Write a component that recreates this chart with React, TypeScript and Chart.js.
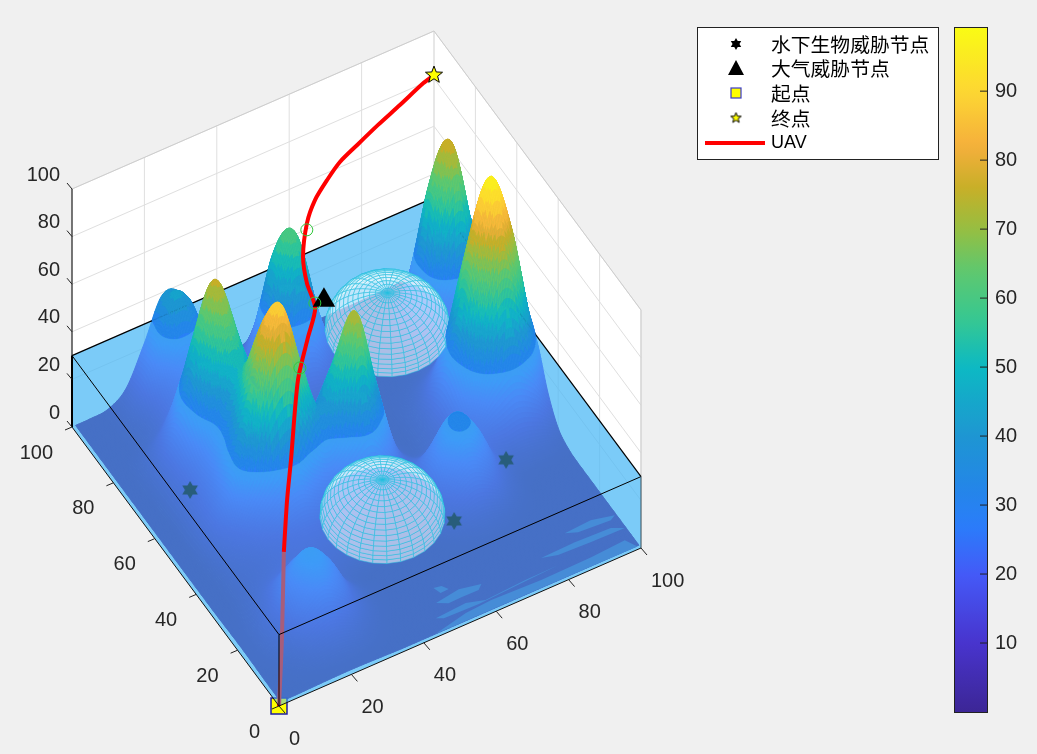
import React, { useEffect, useRef } from "react";
import { Chart, registerables } from "chart.js";
Chart.register(...registerables);

// ---------- values ----------
const gridCoords = [1, 5, 10, 15, 20, 25, 30, 35, 40, 45, 50, 55, 60, 65, 70, 75, 80, 85, 90, 95, 100];
// terrain height, one row per y in gridCoords, one column per x in gridCoords
const terrainHeights = [
  [0, 0, .2, .4, .5, .4, .2, 0, 0, 0, 0, 0, 0, 0, 0, 0, 0, 0, 0, 0, 0],
  [0, .2, .8, 1.9, 2.5, 1.9, .8, .2, 0, 0, 0, 0, 0, 0, 0, 0, 0, 0, 0, 0, 0],
  [.1, .7, 3.2, 7.7, 10.4, 7.7, 3.2, .7, .1, 0, 0, 0, 0, 0, 0, 0, 0, 0, 0, 0, 0],
  [.3, 1.7, 7.3, 17.6, 23.7, 17.6, 7.3, 1.7, .2, 0, 0, 0, 0, 0, 0, 0, 0, 0, 0, 0, 0],
  [.4, 2.1, 9.2, 22.2, 29, 22.2, 9.2, 2.1, .3, 0, 0, 0, .2, .5, .8, .6, .2, 0, 0, 0, 0],
  [.3, 1.5, 6.4, 15.6, 21, 15.6, 6.4, 1.5, .2, 0, 0, .2, 1.2, 3.7, 5.6, 4.2, 1.6, .3, 0, 0, 0],
  [.1, .6, 4, 8, 10.5, 9, 6.3, 4.6, 3.7, 3, 2.2, 2.2, 5, 12.7, 19.2, 14.5, 5.5, 1, 0, 0, 0],
  [0, .1, 3.1, 5.2, 7.2, 8.3, 8.4, 7.5, 6.2, 5.2, 4, 3.8, 8.4, 21.8, 33, 25.2, 10, 3.1, 1.9, 1.3, .6],
  [0, 0, 3.8, 6.3, 9.6, 13, 15, 12.4, 10.6, 11.4, 11.9, 8.6, 8.9, 18.8, 28.5, 22.5, 11.6, 9.1, 10, 7.6, 3.5],
  [0, .2, 5.6, 11.2, 20.1, 31, 36, 26, 21, 28.7, 38.3, 24.2, 10.1, 8.6, 12.7, 12.7, 16.2, 28, 35.3, 27.4, 12.7],
  [0, .4, 8.3, 20.1, 44, 76, 85, 60, 39.7, 55, 73, 42.9, 13.1, 2.8, 3.9, 9.6, 28.1, 59, 76, 58.9, 27.4],
  [0, .4, 8.3, 19.1, 41.3, 72, 82, 56, 33.8, 45, 56, 32.7, 10.5, 1, 2, 10, 35.4, 76, 98, 76, 35.3],
  [0, .3, 7.4, 16.8, 33.5, 56.3, 59.6, 40.5, 24.3, 20.6, 20.6, 13.4, 5.2, .3, 1.3, 7.6, 27.4, 58.9, 76, 58.9, 27.4],
  [0, .3, 6.8, 16.5, 33.5, 50.5, 45.5, 27.4, 16.9, 11.2, 8.2, 5.2, 2.8, 0, .6, 3.5, 12.7, 27.4, 35.3, 27.4, 12.7],
  [0, .4, 6.9, 20.7, 48.3, 66, 48.7, 23.1, 11.8, 7.3, 4.9, 3.2, 1.9, 0, .2, 1, 3.7, 9.1, 13.9, 12.8, 6.5],
  [0, .5, 6.6, 22.9, 56, 74.7, 52.5, 21.7, 9.1, 6.1, 6.3, 5.5, 3, .4, 0, .2, 1.8, 9, 23.5, 28.9, 16.4],
  [0, .3, 4.3, 15.5, 36.3, 48.4, 33.8, 14.6, 6.9, 10, 19.3, 20.6, 10.2, 2, 0, .1, 2.9, 18.6, 54, 69, 38],
  [0, .1, 1.1, 5.7, 15.2, 21.3, 15.7, 6, 4.5, 18.6, 47.5, 52, 23.8, 5, 0, 0, 3.2, 20.2, 59, 74, 41.2],
  [0, .1, .7, 4.3, 13.8, 22.9, 19.2, 8.1, 5.3, 20.1, 52, 57, 25.8, 5.4, 0, 0, 1.6, 9.8, 27.7, 35.2, 20.1],
  [0, .1, .9, 6.7, 22.8, 41, 38, 18, 4.8, 9.6, 23.8, 25.8, 12.3, 2.6, 0, 0, .3, 2.2, 6.1, 7.7, 4.4],
  [0, .1, .9, 6.4, 22, 39, 36, 16, 3.4, 2, 5, 5.4, 2.6, .5, 0, 0, 0, .2, .6, .8, .4],
];
const waterLevel = 30;
const domeX = [70, 40];
const domeY = [70, 20];
const domeRadius = [15, 15];

const uavX = [0, 6.4, 13.8];
const uavY = [0, 9.8, 21.8];
const uavZ = [0, 12, 30];
const uavAirX = [13.8, 20.3, 25.5, 36, 42.9, 47.8, 49, 51.3, 56.1, 60.6, 65.5, 70.4, 76.1, 83, 89.9, 97, 100];
const uavAirY = [21.8, 31.6, 38.8, 53.8, 61, 66.1, 72.2, 78.1, 84.6, 88.6, 91.3, 93.7, 95.3, 97.3, 98.8, 100, 100];
const uavAirZ = [30, 36, 41, 50, 55, 58, 60.5, 63, 66.5, 68.5, 70.5, 72, 73.5, 75, 77, 80, 81.5];
const subseaX = [14.9, 85.5, 65.2];
const subseaY = [69, 39.8, 29.4];
const subseaZ = [0, 0, 0];
const airX = [50.1];
const airY = [65.9];
const airZ = [60];
const probeX = [55.2, 48.5, 37.9];
const probeY = [83.1, 67.5, 56.2];
const probeZ = [66, 58, 51];
const startPoint = [0, 0, 0];
const endPoint = [100, 100, 81.5];

// lighter bands where the terrain meets the floor, as x/y outlines
const floorBandsX = [
  [50.5, 52.5, 53.5, 51.2],
  [48.7, 55.6, 61.1, 59.6, 54.9, 51.3],
  [46.3, 54.9, 59.5, 70.9, 80, 57.5, 48],
  [43.8, 53.4, 60.7, 74.2, 88.2, 97.8, 99.5, 75],
  [77.6, 87.1, 96.8, 99.7, 90.5, 81.6],
  [86.4, 93.8, 99.6, 98, 89.3],
];
const floorBandsY = [
  [13.7, 13.3, 11.6, 11.5],
  [9.3, 10.4, 9.1, 7.8, 7.9, 7.8],
  [5.2, 5.8, 4.3, 5, 5.1, 4, 4.3],
  [1, 3.1, 3.6, 3.1, 3.4, 4, .8, 1],
  [9.1, 9.4, 9, 7.3, 7.5, 7.9],
  [13, 13.5, 12, 11.1, 11.7],
];

const axisTicks = [0, 20, 40, 60, 80, 100];
const colorbarTicks = [10, 20, 30, 40, 50, 60, 70, 80, 90];
const colorMin = 0;
const colorMax = 99.3;
const legendLabels = ["水下生物威胁节点", "大气威胁节点", "起点", "终点", "UAV"];

const colorStopValues = [0, 10, 20, 27, 33, 40, 50, 57, 64, 70, 76, 82, 90, 99.3];
const colorStopRGB: number[][] = [
  [60, 38, 150], [72, 52, 205], [68, 90, 248], [42, 125, 250], [35, 135, 230], [30, 150, 210], [12, 185, 195],
  [55, 200, 145], [95, 200, 110], [150, 190, 65], [200, 175, 40], [245, 175, 60], [253, 215, 50], [249, 251, 20],
];

// ---------- view ----------
const project = (x: number, y: number, z: number) => ({
  x: 3.62 * x - 2.07 * y,
  y: 1.58 * x + 2.79 * y + 2.38 * z,
});
const depthKey = (x: number, y: number) => 2.07 * x + 3.62 * y;
const WATER = "rgba(80,185,245,0.5)";
const INK = "rgb(38,38,38)";
const COLOR_BAND = 4;

function parula(v: number) {
  const z = Math.max(colorMin, Math.min(colorMax, v));
  let i = 0;
  while (i < colorStopValues.length - 2 && z > colorStopValues[i + 1]) i++;
  const t = (z - colorStopValues[i]) / (colorStopValues[i + 1] - colorStopValues[i]);
  const a = colorStopRGB[i], b = colorStopRGB[i + 1];
  return `rgb(${Math.round(a[0] + (b[0] - a[0]) * t)},${Math.round(a[1] + (b[1] - a[1]) * t)},${Math.round(a[2] + (b[2] - a[2]) * t)})`;
}

// surface shading: smooth the table between its grid rows when painting
function cr(a: number, b: number, c: number, d: number, t: number) {
  return 0.5 * (2 * b + (c - a) * t + (2 * a - 5 * b + 4 * c - d) * t * t + (3 * b - a - 3 * c + d) * t * t * t);
}
function heightAt(u: number, v: number) {
  const n = gridCoords.length - 1;
  const c = (k: number) => Math.max(0, Math.min(n, k));
  const iu = Math.min(n - 1, Math.floor(u)), iv = Math.min(n - 1, Math.floor(v));
  const tu = u - iu, tv = v - iv;
  const rows = [-1, 0, 1, 2].map((dv) => {
    const r = terrainHeights[c(iv + dv)];
    return cr(r[c(iu - 1)], r[c(iu)], r[c(iu + 1)], r[c(iu + 2)], tu);
  });
  return Math.max(0, cr(rows[0], rows[1], rows[2], rows[3], tv));
}

type P3 = number[];
function clipAbove(poly: P3[], level: number) {
  const out: P3[] = [];
  for (let i = 0; i < poly.length; i++) {
    const a = poly[i], b = poly[(i + 1) % poly.length];
    const ia = a[2] >= level, ib = b[2] >= level;
    if (ia) out.push(a);
    if (ia !== ib) {
      const t = (level - a[2]) / (b[2] - a[2]);
      out.push([a[0] + (b[0] - a[0]) * t, a[1] + (b[1] - a[1]) * t, level]);
    }
  }
  return out;
}

function buildCells() {
  const SUB = 12;
  const n = (gridCoords.length - 1) * SUB;
  const coord = (k: number) => {
    const i = Math.min(gridCoords.length - 2, Math.floor(k / SUB));
    const t = k / SUB - i;
    return gridCoords[i] + (gridCoords[i + 1] - gridCoords[i]) * t;
  };
  const cells: { poly: P3[]; key: number; z: number }[] = [];
  const Z: number[][] = [];
  for (let j = 0; j <= n; j++) {
    Z.push([]);
    for (let i = 0; i <= n; i++) Z[j].push(heightAt(i / SUB, j / SUB));
  }
  for (let j = 0; j < n; j++) {
    for (let i = 0; i < n; i++) {
      const x0 = coord(i), x1 = coord(i + 1), y0 = coord(j), y1 = coord(j + 1);
      cells.push({
        poly: [[x0, y0, Z[j][i]], [x1, y0, Z[j][i + 1]], [x1, y1, Z[j + 1][i + 1]], [x0, y1, Z[j + 1][i]]],
        key: depthKey((x0 + x1) / 2, (y0 + y1) / 2),
        z: (Z[j][i] + Z[j][i + 1] + Z[j + 1][i + 1] + Z[j + 1][i]) / 4,
      });
    }
  }
  cells.sort((a, b) => b.key - a.key);
  return cells;
}

function buildDome(cx: number, cy: number, r: number) {
  const rings = 16, meridians = 28;
  const quads: { poly: P3[]; key: number }[] = [];
  const pt = (ri: number, m: number): P3 => {
    const el = (ri / rings) * Math.PI / 2;
    const az = (m / meridians) * Math.PI * 2;
    return [cx + r * Math.cos(el) * Math.cos(az), cy + r * Math.cos(el) * Math.sin(az), waterLevel + r * Math.sin(el)];
  };
  for (let ri = 0; ri < rings; ri++) {
    for (let m = 0; m < meridians; m++) {
      const poly = [pt(ri, m), pt(ri, m + 1), pt(ri + 1, m + 1), pt(ri + 1, m)];
      const c = poly.reduce((s, p) => [s[0] + p[0] / 4, s[1] + p[1] / 4, s[2] + p[2] / 4], [0, 0, 0]);
      quads.push({ poly, key: 2.07 * c[0] + 3.62 * c[1] - 5.56 * c[2] });
    }
  }
  quads.sort((a, b) => b.key - a.key);
  return { quads, key: depthKey(cx, cy) };
}

function starCanvas(kind: "hex" | "five", size: number, fill: string, stroke: string | null) {
  const cv = document.createElement("canvas");
  cv.width = size; cv.height = size;
  const c = cv.getContext("2d")!;
  const m = size / 2;
  const R = m - 1;
  c.fillStyle = fill;
  c.beginPath();
  const points = kind === "hex" ? 6 : 5;
  const inner = kind === "hex" ? R * 0.577 : R * 0.42;
  for (let i = 0; i < points * 2; i++) {
    const a = -Math.PI / 2 + (i * Math.PI) / points;
    const rad = i % 2 === 0 ? R : inner;
    const x = m + rad * Math.cos(a), y = m + rad * Math.sin(a);
    if (i === 0) c.moveTo(x, y); else c.lineTo(x, y);
  }
  c.closePath();
  c.fill();
  if (stroke) { c.strokeStyle = stroke; c.lineWidth = 1; c.stroke(); }
  return cv;
}

const pts = (xs: number[], ys: number[], zs: number[]) => xs.map((x, i) => project(x, ys[i], zs[i]));

export default function App() {
  const ref = useRef<HTMLCanvasElement | null>(null);
  useEffect(() => {
    const canvas = ref.current!;
    const cells = buildCells();
    const domes = domeX.map((x, i) => buildDome(x, domeY[i], domeRadius[i]));

    const hexMark = starCanvas("hex", 20, "#000", null);
    const hexLegend = starCanvas("hex", 14, "#000", null);
    const starMark = starCanvas("five", 20, "#ffff00", "#000");
    const starLegend = starCanvas("five", 13, "#ffff00", "#000");

    const sx = (c: Chart, u: number) => c.scales.x.getPixelForValue(u);
    const sy = (c: Chart, v: number) => c.scales.y.getPixelForValue(v);
    const px = (c: Chart, x: number, y: number, z: number) => {
      const p = project(x, y, z);
      return [sx(c, p.x), sy(c, p.y)];
    };
    const path = (ctx: CanvasRenderingContext2D, c: Chart, poly: P3[]) => {
      ctx.beginPath();
      poly.forEach((p, i) => {
        const q = px(c, p[0], p[1], p[2]);
        if (i === 0) ctx.moveTo(q[0], q[1]); else ctx.lineTo(q[0], q[1]);
      });
      ctx.closePath();
    };
    const seg = (ctx: CanvasRenderingContext2D, c: Chart, a: P3, b: P3, color: string, w: number) => {
      const p = px(c, a[0], a[1], a[2]), q = px(c, b[0], b[1], b[2]);
      ctx.strokeStyle = color; ctx.lineWidth = w;
      ctx.beginPath(); ctx.moveTo(p[0], p[1]); ctx.lineTo(q[0], q[1]); ctx.stroke();
    };
    const face = (ctx: CanvasRenderingContext2D, c: Chart, poly: P3[], color: string) => {
      path(ctx, c, poly); ctx.fillStyle = color; ctx.fill();
    };
    const paintCell = (ctx: CanvasRenderingContext2D, c: Chart, poly: P3[], z: number, w: number) => {
      const col = parula(z);
      path(ctx, c, poly);
      ctx.fillStyle = col; ctx.strokeStyle = col; ctx.lineWidth = w;
      ctx.fill(); ctx.stroke();
    };

    const scenePlugin = {
      id: "scene",
      beforeDatasetsDraw(c: Chart) {
        const ctx = c.ctx;
        ctx.save();
        ctx.lineJoin = "round";
        // white panes
        face(ctx, c, [[0, 100, 0], [100, 100, 0], [100, 100, 100], [0, 100, 100]], "#fff");
        face(ctx, c, [[100, 0, 0], [100, 100, 0], [100, 100, 100], [100, 0, 100]], "#fff");
        face(ctx, c, [[0, 0, 0], [100, 0, 0], [100, 100, 0], [0, 100, 0]], "#fff");
        const grid = "rgb(223,223,223)";
        axisTicks.forEach((t) => {
          seg(ctx, c, [t, 100, 0], [t, 100, 100], grid, 1);
          seg(ctx, c, [100, t, 0], [100, t, 100], grid, 1);
          seg(ctx, c, [0, 100, t], [100, 100, t], grid, 1);
          seg(ctx, c, [100, 0, t], [100, 100, t], grid, 1);
        });
        seg(ctx, c, [0, 100, 100], [100, 100, 100], "rgb(205,205,205)", 1);
        seg(ctx, c, [100, 100, 100], [100, 0, 100], "rgb(205,205,205)", 1);
        seg(ctx, c, [100, 0, 0], [100, 0, 100], "rgb(205,205,205)", 1);
        // far water faces
        face(ctx, c, [[0, 0, 0], [100, 0, 0], [100, 100, 0], [0, 100, 0]], WATER);
        face(ctx, c, [[0, 100, 0], [100, 100, 0], [100, 100, waterLevel], [0, 100, waterLevel]], WATER);
        face(ctx, c, [[100, 0, 0], [100, 100, 0], [100, 100, waterLevel], [100, 0, waterLevel]], WATER);
        // terrain, whole surface
        cells.forEach((cell) => paintCell(ctx, c, cell.poly, cell.z, 1));
        floorBandsX.forEach((xs, i) => {
          face(ctx, c, xs.map((x, k) => [x, floorBandsY[i][k], 0]), "rgb(60,95,185)");
        });
        ctx.restore();
      },
      beforeDatasetDraw(c: Chart, args: { index: number }) {
        if ((c.data.datasets[args.index] as any).label !== "UAV") return;
        const ctx = c.ctx;
        ctx.save();
        ctx.lineJoin = "round";
        // near water faces
        face(ctx, c, [[0, 0, waterLevel], [100, 0, waterLevel], [100, 100, waterLevel], [0, 100, waterLevel]], WATER);
        face(ctx, c, [[0, 0, 0], [100, 0, 0], [100, 0, waterLevel], [0, 0, waterLevel]], WATER);
        face(ctx, c, [[0, 0, 0], [0, 100, 0], [0, 100, waterLevel], [0, 0, waterLevel]], WATER);
        const L = waterLevel;
        seg(ctx, c, [0, 100, L], [100, 100, L], "#000", 1.2);
        seg(ctx, c, [100, 100, L], [100, 0, L], "#000", 1.2);
        seg(ctx, c, [0, 0, L], [0, 100, L], "#000", 1);
        seg(ctx, c, [0, 0, L], [100, 0, L], "#000", 1);
        seg(ctx, c, [0, 0, 0], [0, 0, L], "#000", 1);
        seg(ctx, c, [0, 100, 0], [0, 100, L], "#000", 2);
        seg(ctx, c, [100, 0, 0], [100, 0, L], "rgb(70,90,100)", 1);
        // terrain above the water and the two domes, far to near
        const items: { key: number; draw: () => void }[] = [];
        cells.forEach((cell) => {
          if (Math.max(...cell.poly.map((p) => p[2])) <= L) return;
          const poly = clipAbove(cell.poly, L);
          if (poly.length < 3) return;
          const banded = Math.round(cell.z / COLOR_BAND) * COLOR_BAND;
          items.push({ key: cell.key, draw: () => paintCell(ctx, c, poly, banded, 0.35) });
        });
        domes.forEach((d) => {
          items.push({
            key: d.key,
            draw: () => {
              ctx.lineWidth = 0.5;
              d.quads.forEach((q) => {
                path(ctx, c, q.poly);
                ctx.fillStyle = "rgba(255,255,255,0.55)";
                ctx.fill();
                ctx.strokeStyle = "rgb(35,188,222)";
                ctx.stroke();
              });
            },
          });
        });
        items.sort((a, b) => b.key - a.key);
        items.forEach((it) => it.draw());
        ctx.restore();
      },
      afterDatasetsDraw(c: Chart) {
        const ctx = c.ctx;
        ctx.save();
        // axes
        seg(ctx, c, [0, 0, 0], [100, 0, 0], "#111", 1);
        seg(ctx, c, [0, 0, 0], [0, 100, 0], "#111", 1);
        seg(ctx, c, [0, 100, waterLevel], [0, 100, 100], "#111", 1.1);
        ctx.font = "20px 'Liberation Sans', Arial, sans-serif";
        ctx.fillStyle = INK;
        ctx.textBaseline = "middle";
        axisTicks.forEach((t) => {
          let p = px(c, t, 0, 0);
          ctx.strokeStyle = "#222"; ctx.lineWidth = 1;
          ctx.beginPath(); ctx.moveTo(p[0], p[1]); ctx.lineTo(p[0] + 6, p[1] + 7); ctx.stroke();
          ctx.textAlign = "left";
          ctx.fillText(String(t), p[0] + 10, p[1] + 33);
          p = px(c, 0, t, 0);
          ctx.beginPath(); ctx.moveTo(p[0], p[1]); ctx.lineTo(p[0] - 7, p[1] + 3); ctx.stroke();
          ctx.textAlign = "right";
          ctx.fillText(String(t), p[0] - 19, p[1] + 26);
          p = px(c, 0, 100, t);
          ctx.beginPath(); ctx.moveTo(p[0], p[1]); ctx.lineTo(p[0] - 5, p[1] - 6); ctx.stroke();
          ctx.fillText(String(t), p[0] - 12, p[1] - 14);
        });
        // legend
        const lx = 697, ly = 27, lw = 241, lh = 132;
        ctx.fillStyle = "#fff"; ctx.fillRect(lx, ly, lw, lh);
        ctx.strokeStyle = "#222"; ctx.lineWidth = 1;
        ctx.strokeRect(lx + 0.5, ly + 0.5, lw, lh);
        const rowY = [44, 68, 93, 118, 143];
        legendLabels.forEach((label, i) => {
          ctx.textAlign = "left";
          ctx.fillStyle = "#000";
          ctx.font = i === 4 ? "18px 'Liberation Sans', Arial, sans-serif" : "19.8px 'Noto Sans CJK SC'";
          ctx.fillText(label, 771, rowY[i]);
        });
        ctx.drawImage(hexLegend, 736 - 7, 44 - 7);
        ctx.fillStyle = "#000";
        ctx.beginPath(); ctx.moveTo(736, 60); ctx.lineTo(744, 75); ctx.lineTo(728, 75); ctx.closePath(); ctx.fill();
        ctx.fillStyle = "#ffff00"; ctx.strokeStyle = "#3a3ac8"; ctx.lineWidth = 1.2;
        ctx.fillRect(731, 88, 10, 10); ctx.strokeRect(731, 88, 10, 10);
        ctx.drawImage(starLegend, 736 - 6.5, 118 - 6.5);
        ctx.strokeStyle = "#f00"; ctx.lineWidth = 4;
        ctx.beginPath(); ctx.moveTo(705, 143); ctx.lineTo(765, 143); ctx.stroke();
        // colorbar
        const bx = 954, bw = 33, bTop = 27, bBot = 712;
        const perUnit = (bBot - bTop) / (colorMax - colorMin);
        const g = ctx.createLinearGradient(0, bBot, 0, bTop);
        for (let i = 0; i <= 60; i++) {
          g.addColorStop(i / 60, parula(colorMin + (i / 60) * (colorMax - colorMin)));
        }
        ctx.fillStyle = g; ctx.fillRect(bx, bTop, bw, bBot - bTop);
        ctx.strokeStyle = "#222"; ctx.lineWidth = 1;
        ctx.strokeRect(bx + 0.5, bTop + 0.5, bw, bBot - bTop);
        ctx.font = "20px 'Liberation Sans', Arial, sans-serif";
        ctx.fillStyle = INK; ctx.textAlign = "left";
        colorbarTicks.forEach((t) => {
          const y = bBot - (t - colorMin) * perUnit;
          ctx.beginPath(); ctx.moveTo(bx + bw - 7, y); ctx.lineTo(bx + bw, y); ctx.stroke();
          ctx.fillText(String(t), bx + bw + 8, y);
        });
        ctx.restore();
      },
    };

    const chart = new Chart(canvas, {
      type: "scatter",
      data: {
        datasets: [
          { label: "水下生物威胁节点", order: 6, data: pts(subseaX, subseaY, subseaZ), pointStyle: hexMark as any, pointRadius: 10 },
          { label: "起点", order: 5, data: [project(startPoint[0], startPoint[1], startPoint[2])], pointStyle: "rect", pointRadius: 11.3, backgroundColor: "#ffff00", borderColor: "#1e1ea0", borderWidth: 1.5 },
          { label: "UAV 水下段", order: 4, data: pts(uavX, uavY, uavZ), showLine: true, borderColor: "#f00", borderWidth: 4, pointRadius: 0, tension: 0.3 },
          { label: "UAV", order: 3, data: pts(uavAirX, uavAirY, uavAirZ), showLine: true, borderColor: "#f00", borderWidth: 4, pointRadius: 0, tension: 0.25 },
          { label: "大气威胁节点", order: 2, data: pts(airX, airY, airZ), pointStyle: "triangle", pointRadius: 13, backgroundColor: "#000", borderColor: "#000", borderWidth: 0 },
          { label: "probe", order: 1, data: pts(probeX, probeY, probeZ), pointStyle: "circle", pointRadius: 6, backgroundColor: "rgba(0,0,0,0)", borderColor: "rgb(50,200,60)", borderWidth: 1 },
          { label: "终点", order: 0, data: [project(endPoint[0], endPoint[1], endPoint[2])], pointStyle: starMark as any, pointRadius: 10 },
        ] as any,
      },
      options: {
        animation: false,
        responsive: false,
        devicePixelRatio: 1,
        layout: { padding: 0, autoPadding: false },
        plugins: { legend: { display: false }, tooltip: { enabled: false } },
        scales: {
          x: { type: "linear", display: false, min: -279, max: 758 },
          y: { type: "linear", display: false, min: -48, max: 706 },
        },
      },
      plugins: [scenePlugin as any],
    });
    return () => chart.destroy();
  }, []);
  return (
    <div style={{ position: "fixed", left: 0, top: 0, width: 1037, height: 754, background: "#f0f0f0" }}>
      <canvas ref={ref} width={1037} height={754} style={{ display: "block", width: 1037, height: 754 }} />
    </div>
  );
}
